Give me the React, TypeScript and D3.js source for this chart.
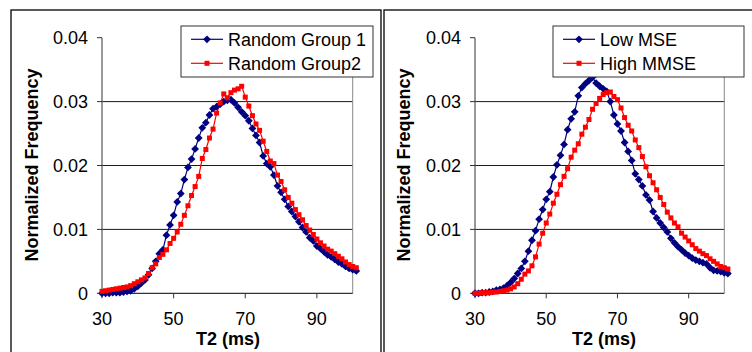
import React from "react";
import * as d3 from "d3";

// T2 categories (ms)
const t2 = [
  30, 31, 32, 33, 34, 35, 36, 37, 38, 39, 40, 41, 42, 43, 44, 45, 46, 47, 48, 49,
  50, 51, 52, 53, 54, 55, 56, 57, 58, 59, 60, 61, 62, 63, 64, 65, 66, 67, 68, 69,
  70, 71, 72, 73, 74, 75, 76, 77, 78, 79, 80, 81, 82, 83, 84, 85, 86, 87, 88, 89,
  90, 91, 92, 93, 94, 95, 96, 97, 98, 99, 100, 101,
];

const randomGroup1 = [
  0.0, 0.0, 0.0, 0.0001, 0.0001, 0.0001, 0.0002, 0.0003, 0.0004, 0.0007,
  0.0011, 0.0016, 0.0021, 0.0029, 0.0039, 0.005, 0.0062, 0.0068, 0.0091, 0.0107,
  0.0122, 0.0143, 0.0156, 0.0178, 0.0197, 0.021, 0.0226, 0.0243, 0.0259, 0.0267,
  0.0279, 0.0289, 0.0292, 0.0296, 0.03, 0.0302, 0.0303, 0.0298, 0.0291, 0.0284,
  0.0278, 0.027, 0.0258, 0.0247, 0.0236, 0.0215, 0.0203, 0.0198, 0.0185, 0.0168,
  0.0158, 0.0147, 0.0136, 0.0128, 0.012, 0.0112, 0.0103, 0.0096, 0.0087, 0.0082,
  0.0074, 0.007, 0.0065, 0.006, 0.0057, 0.0053, 0.0049, 0.0046, 0.0042, 0.0039,
  0.0037, 0.0035,
];

const randomGroup2 = [
  0.0003, 0.0004, 0.0005, 0.0006, 0.0007, 0.0008, 0.0009, 0.001, 0.0012, 0.0015,
  0.0018, 0.0021, 0.0024, 0.0031, 0.004, 0.0046, 0.0056, 0.0061, 0.0068, 0.0078,
  0.0086, 0.0096, 0.0108, 0.0122, 0.0137, 0.0153, 0.0167, 0.0183, 0.0211, 0.0225,
  0.0243, 0.0257, 0.0282, 0.0298, 0.0312, 0.0306, 0.0314, 0.0318, 0.032, 0.0324,
  0.0307, 0.0293, 0.0278, 0.0265, 0.0255, 0.0238, 0.0222, 0.0207, 0.0203, 0.0185,
  0.0175, 0.0162, 0.015, 0.0141, 0.0131, 0.0123, 0.0115, 0.0106, 0.0099, 0.0092,
  0.0085, 0.0079, 0.0074, 0.0069, 0.0066, 0.0062, 0.0058, 0.0054, 0.0049, 0.0045,
  0.0042, 0.004,
];

const lowMSE = [
  0.0, 0.0, 0.0001, 0.0001, 0.0002, 0.0003, 0.0005, 0.0006, 0.0008, 0.0012,
  0.0017, 0.0023, 0.0031, 0.0039, 0.005, 0.0066, 0.0083, 0.0098, 0.0116, 0.0131,
  0.0147, 0.0159, 0.0182, 0.0201, 0.0216, 0.0233, 0.0256, 0.0273, 0.0284, 0.0309,
  0.0322, 0.0328, 0.0333, 0.0338, 0.0329, 0.0324, 0.032, 0.0316, 0.03, 0.0279,
  0.0265, 0.0254, 0.0236, 0.0222, 0.0208, 0.0187, 0.0178, 0.0168, 0.0154, 0.0146,
  0.0128, 0.0118, 0.011, 0.0103, 0.0096, 0.0086, 0.0079, 0.0073, 0.0068, 0.0063,
  0.0059, 0.0055, 0.0052, 0.005, 0.0048, 0.0046, 0.004, 0.0036, 0.0035, 0.0034,
  0.0032, 0.0031,
];

const highMMSE = [
  0.0, 0.0, 0.0001, 0.0001, 0.0001, 0.0002, 0.0002, 0.0003, 0.0004, 0.0005,
  0.0007, 0.001, 0.0015, 0.0022, 0.003, 0.0035, 0.0043, 0.0057, 0.0077, 0.0094,
  0.011, 0.0124, 0.0141, 0.0155, 0.017, 0.0183, 0.0195, 0.0213, 0.0224, 0.0234,
  0.0249, 0.026, 0.0272, 0.0288, 0.0297, 0.0305, 0.0311, 0.0314, 0.0315, 0.0308,
  0.0303, 0.029, 0.0275, 0.0263, 0.0254, 0.024, 0.0228, 0.0214, 0.0198, 0.0184,
  0.0173, 0.0162, 0.015, 0.0139, 0.0127, 0.0118, 0.011, 0.0104, 0.0094, 0.0088,
  0.0082, 0.0076, 0.007, 0.0066, 0.0062, 0.0059, 0.0054, 0.005, 0.0046, 0.0042,
  0.004, 0.0038,
];

const yTicks = [0, 0.01, 0.02, 0.03, 0.04];
const yTickLabels = ["0", "0.01", "0.02", "0.03", "0.04"];
const xTicks = [30, 50, 70, 90];

const FONT = "'Liberation Sans', Arial, sans-serif";
const BLUE = "#000080";
const RED = "#ff0000";

const diamond = (r: number) => `M0,${-r}L${r},0L0,${r}L${-r},0Z`;

interface PanelProps {
  frameX: number;
  frameW: number;
  left: number;
  right: number;
  labels: [string, string];
  blue: number[];
  red: number[];
  legendX: number;
  legendW: number;
  titleX: number;
  xTitleX: number;
}

const Panel: React.FC<PanelProps> = (p) => {
  const top = 37.7;
  const bottom = 293.3;
  const x = d3.scaleLinear().domain([30, 100]).range([p.left, p.right]);
  const y = d3.scaleLinear().domain([0, 0.04]).range([bottom, top]);

  const line = d3
    .line<number>()
    .x((_, i) => x(t2[i]))
    .y((d) => y(d));

  const legRows = [
    { label: p.labels[0], color: BLUE, kind: "d" },
    { label: p.labels[1], color: RED, kind: "s" },
  ];

  return (
    <g fontFamily={FONT}>
      <rect x={p.frameX} y={10} width={p.frameW} height={400} fill="#fff" stroke="#000" strokeWidth={1.3} />

      {/* gridlines */}
      {yTicks.slice(1, 4).map((t) => (
        <line key={t} x1={p.left} x2={p.right} y1={y(t)} y2={y(t)} stroke="#1a1a1a" strokeWidth={1} />
      ))}
      <line x1={p.right} x2={p.right} y1={top} y2={bottom} stroke="#888" strokeWidth={1} />

      {/* axes */}
      <line x1={p.left} x2={p.left} y1={top} y2={bottom} stroke="#555" strokeWidth={1.2} />
      <line x1={p.left} x2={p.right} y1={bottom} y2={bottom} stroke="#333" strokeWidth={1.2} />
      {yTicks.map((t, i) => (
        <g key={t}>
          <line x1={p.left - 5} x2={p.left} y1={y(t)} y2={y(t)} stroke="#333" />
          <text x={p.left - 14} y={y(t)} dy="0.35em" textAnchor="end" fontSize={18}>
            {yTickLabels[i]}
          </text>
        </g>
      ))}
      {xTicks.map((t) => (
        <g key={t}>
          <line x1={x(t)} x2={x(t)} y1={bottom} y2={bottom + 5} stroke="#333" />
          <text x={x(t)} y={325} textAnchor="middle" fontSize={18}>
            {t}
          </text>
        </g>
      ))}

      <text
        transform={`translate(${p.titleX},165) rotate(-90)`}
        textAnchor="middle"
        dy="0.35em"
        fontSize={18}
        fontWeight="bold"
      >
        Normalized Frequency
      </text>
      <text x={p.xTitleX} y={345} textAnchor="middle" fontSize={18} fontWeight="bold">
        T2 (ms)
      </text>

      {/* series */}
      <path d={line(p.red) || ""} fill="none" stroke={RED} strokeWidth={1.2} />
      <path d={line(p.blue) || ""} fill="none" stroke={BLUE} strokeWidth={1.2} />
      {p.blue.map((d, i) => (
        <path key={"b" + i} d={diamond(3.9)} transform={`translate(${x(t2[i])},${y(d)})`} fill={BLUE} />
      ))}
      {p.red.map((d, i) => (
        <rect key={"r" + i} x={x(t2[i]) - 2.5} y={y(d) - 2.5} width={5} height={5} fill={RED} />
      ))}

      {/* legend */}
      <rect x={p.legendX} y={26} width={p.legendW} height={51} fill="#fff" stroke="#333" strokeWidth={1} />
      {legRows.map((r, i) => {
        const cy = 39.3 + i * 24;
        const lx = p.legendX + 10;
        return (
          <g key={r.label}>
            <line x1={lx} x2={lx + 32} y1={cy} y2={cy} stroke={r.color} strokeWidth={1.2} />
            {r.kind === "d" ? (
              <path d={diamond(3.9)} transform={`translate(${lx + 16},${cy})`} fill={r.color} />
            ) : (
              <rect x={lx + 16 - 2.5} y={cy - 2.5} width={5} height={5} fill={r.color} />
            )}
            <text x={lx + 37} y={cy} dy="0.35em" fontSize={18}>
              {r.label}
            </text>
          </g>
        );
      })}
    </g>
  );
};

export default function App() {
  return (
    <svg width={752} height={352} style={{ position: "absolute", left: 0, top: 0, background: "#fff" }}>
      <rect width={752} height={352} fill="#fff" />
      <Panel
        frameX={11}
        frameW={370}
        left={102}
        right={352.7}
        labels={["Random Group 1", "Random Group2"]}
        blue={randomGroup1}
        red={randomGroup2}
        legendX={181}
        legendW={192}
        titleX={32}
        xTitleX={228}
      />
      <Panel
        frameX={384}
        frameW={400}
        left={475}
        right={724.3}
        labels={["Low MSE", "High MMSE"]}
        blue={lowMSE}
        red={highMMSE}
        legendX={553}
        legendW={191}
        titleX={403.5}
        xTitleX={604}
      />
    </svg>
  );
}
